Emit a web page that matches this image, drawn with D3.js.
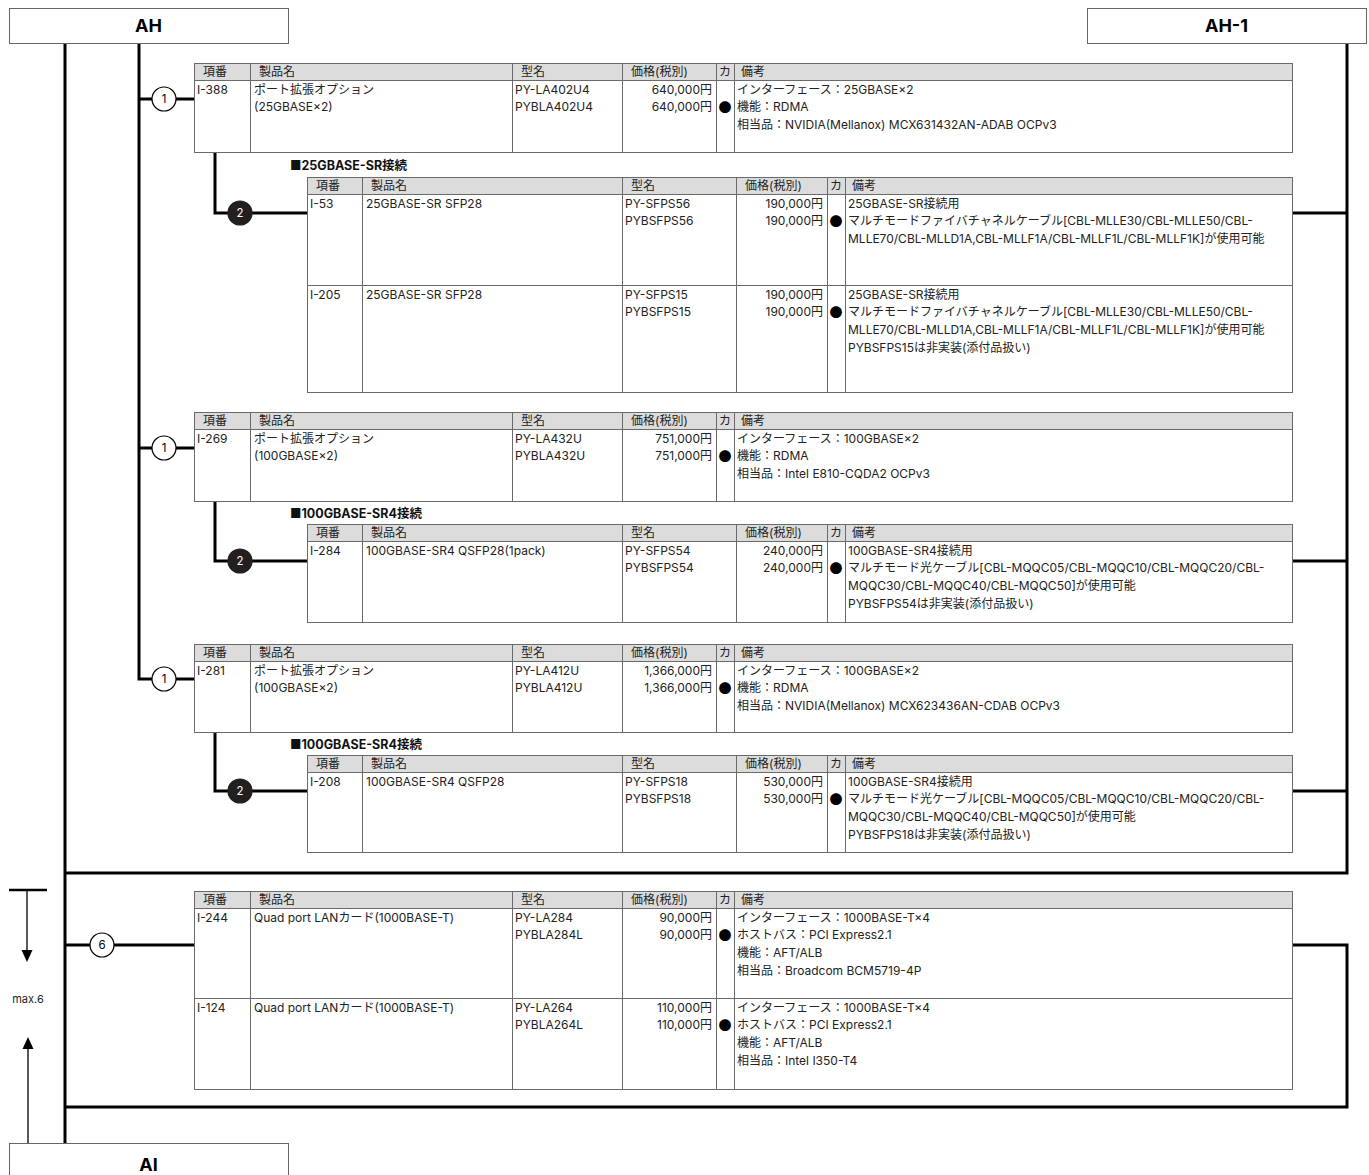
<!DOCTYPE html>
<html><head><meta charset="utf-8">
<script src="https://cdn.jsdelivr.net/npm/d3@7/dist/d3.min.js"></script>
<style>
html,body{margin:0;padding:0;background:#fff;}
svg{display:block;font-family:Inter,"Noto Sans CJK JP",sans-serif;}
</style></head>
<body>
<svg id="c" width="1369" height="1175"></svg>
<script>
// ---------------- DATA ----------------
const headerLabels = ["項番","製品名","型名","価格(税別)","カ","備考"];
const nodeLabels = ["AH","AH-1","AI"];
const sectionTitles = ["■25GBASE-SR接続","■100GBASE-SR4接続","■100GBASE-SR4接続"];
const stepLabels = ["1","2","6"];
const maxLabel = "max.6";

const portOption25G = [
  {no:"I-388", name:["ポート拡張オプション","(25GBASE×2)"], models:["PY-LA402U4","PYBLA402U4"], prices:[640000,640000], mark:"●",
   notes:["インターフェース：25GBASE×2","機能：RDMA","相当品：NVIDIA(Mellanox) MCX631432AN-ADAB OCPv3"]}
];
const sr25Modules = [
  {no:"I-53", name:["25GBASE-SR SFP28"], models:["PY-SFPS56","PYBSFPS56"], prices:[190000,190000], mark:"●",
   notes:["25GBASE-SR接続用","マルチモードファイバチャネルケーブル[CBL-MLLE30/CBL-MLLE50/CBL-","MLLE70/CBL-MLLD1A,CBL-MLLF1A/CBL-MLLF1L/CBL-MLLF1K]が使用可能"]},
  {no:"I-205", name:["25GBASE-SR SFP28"], models:["PY-SFPS15","PYBSFPS15"], prices:[190000,190000], mark:"●",
   notes:["25GBASE-SR接続用","マルチモードファイバチャネルケーブル[CBL-MLLE30/CBL-MLLE50/CBL-","MLLE70/CBL-MLLD1A,CBL-MLLF1A/CBL-MLLF1L/CBL-MLLF1K]が使用可能","PYBSFPS15は非実装(添付品扱い)"]}
];
const portOption100GIntel = [
  {no:"I-269", name:["ポート拡張オプション","(100GBASE×2)"], models:["PY-LA432U","PYBLA432U"], prices:[751000,751000], mark:"●",
   notes:["インターフェース：100GBASE×2","機能：RDMA","相当品：Intel E810-CQDA2 OCPv3"]}
];
const sr4ModulesA = [
  {no:"I-284", name:["100GBASE-SR4 QSFP28(1pack)"], models:["PY-SFPS54","PYBSFPS54"], prices:[240000,240000], mark:"●",
   notes:["100GBASE-SR4接続用","マルチモード光ケーブル[CBL-MQQC05/CBL-MQQC10/CBL-MQQC20/CBL-","MQQC30/CBL-MQQC40/CBL-MQQC50]が使用可能","PYBSFPS54は非実装(添付品扱い)"]}
];
const portOption100GNvidia = [
  {no:"I-281", name:["ポート拡張オプション","(100GBASE×2)"], models:["PY-LA412U","PYBLA412U"], prices:[1366000,1366000], mark:"●",
   notes:["インターフェース：100GBASE×2","機能：RDMA","相当品：NVIDIA(Mellanox) MCX623436AN-CDAB OCPv3"]}
];
const sr4ModulesB = [
  {no:"I-208", name:["100GBASE-SR4 QSFP28"], models:["PY-SFPS18","PYBSFPS18"], prices:[530000,530000], mark:"●",
   notes:["100GBASE-SR4接続用","マルチモード光ケーブル[CBL-MQQC05/CBL-MQQC10/CBL-MQQC20/CBL-","MQQC30/CBL-MQQC40/CBL-MQQC50]が使用可能","PYBSFPS18は非実装(添付品扱い)"]}
];
const lanCards = [
  {no:"I-244", name:["Quad port LANカード(1000BASE-T)"], models:["PY-LA284","PYBLA284L"], prices:[90000,90000], mark:"●",
   notes:["インターフェース：1000BASE-T×4","ホストバス：PCI Express2.1","機能：AFT/ALB","相当品：Broadcom BCM5719-4P"]},
  {no:"I-124", name:["Quad port LANカード(1000BASE-T)"], models:["PY-LA264","PYBLA264L"], prices:[110000,110000], mark:"●",
   notes:["インターフェース：1000BASE-T×4","ホストバス：PCI Express2.1","機能：AFT/ALB","相当品：Intel I350-T4"]}
];

// ---------------- LAYOUT ----------------
const svg = d3.select("#c");
const fmtPrice = v => d3.format(",")(v) + "円";
const mainCols = d3.scaleOrdinal().domain(d3.range(7)).range([194,250,512,622,716,734,1292]);
const subCols  = d3.scaleOrdinal().domain(d3.range(7)).range([307,362,622,736,827,845,1292]);
const HEAD_H = 17, LINE = 17.8, FS = 12;
const lineColor = "#6a6a6a";

function drawTable(rows, cols, top, rowHeights){
  const g = svg.append("g");
  const x0 = cols(0), x1 = cols(6);
  const bodyTop = top + HEAD_H;
  const bottom = bodyTop + d3.sum(rowHeights);
  g.append("rect").attr("x",x0).attr("y",top).attr("width",x1-x0).attr("height",bottom-top).attr("fill","#fff");
  g.append("rect").attr("x",x0).attr("y",top).attr("width",x1-x0).attr("height",HEAD_H).attr("fill","#dcdcdc");
  headerLabels.forEach((h,i)=>{
    const t = g.append("text").attr("y",top+13).attr("font-size",FS).attr("fill","#222").text(h);
    if(i===4) t.attr("x",(cols(4)+cols(5))/2).attr("text-anchor","middle");
    else t.attr("x",cols(i)+(i===5?7:9));
  });
  let y = bodyTop;
  const rowTops = [];
  rows.forEach((r,ri)=>{
    rowTops.push(y);
    const tb = y + 13.5;
    const txt = (x,yy,s,anchor)=>g.append("text").attr("x",x).attr("y",yy).attr("font-size",FS).attr("fill","#222").attr("text-anchor",anchor||"start").text(s);
    txt(cols(0)+3, tb, r.no);
    r.name.forEach((s,i)=>txt(cols(1)+4, tb+i*LINE, s));
    r.models.forEach((s,i)=>txt(cols(2)+3, tb+i*LINE, s));
    r.prices.forEach((v,i)=>txt(cols(4)-4, tb+i*LINE, fmtPrice(v), "end"));
    txt((cols(4)+cols(5))/2, tb+LINE+0.5, r.mark, "middle")
      .attr("font-family","'Noto Sans CJK JP'").attr("font-size",13).attr("fill","#000");
    r.notes.forEach((s,i)=>txt(cols(5)+3, tb+i*LINE, s));
    y += rowHeights[ri];
  });
  const ln = (a,b,c,d)=>g.append("line").attr("x1",a).attr("y1",b).attr("x2",c).attr("y2",d).attr("stroke",lineColor).attr("stroke-width",1).attr("shape-rendering","crispEdges");
  ln(x0,top+0.5,x1,top+0.5);
  ln(x0,bodyTop+0.5,x1,bodyTop+0.5);
  rowTops.slice(1).forEach(t=>ln(x0,t+0.5,x1,t+0.5));
  ln(x0,bottom+0.5,x1,bottom+0.5);
  for(let i=0;i<7;i++) ln(cols(i)+0.5,top,cols(i)+0.5,bottom+1);
  return {top, bottom};
}

function thick(pts){
  svg.append("polyline").attr("points",pts.map(p=>p.join(",")).join(" "))
    .attr("fill","none").attr("stroke","#000").attr("stroke-width",3).attr("stroke-linejoin","miter");
}
function badge(cx,cy,label,filled){
  svg.append("circle").attr("cx",cx).attr("cy",cy).attr("r",12)
    .attr("fill",filled?"#231f20":"#fff").attr("stroke",filled?"#231f20":"#000").attr("stroke-width",1.2);
  svg.append("text").attr("x",cx).attr("y",cy+4).attr("text-anchor","middle").attr("font-size",11.5)
    .attr("fill",filled?"#fff":"#000").text(label);
}
function title(x,y,s){
  svg.append("text").attr("x",x).attr("y",y).attr("font-size",12.5).attr("font-weight","bold").attr("fill","#111").text(s);
}
function nodeBox(x,y,w,h,label,ty){
  svg.append("rect").attr("x",x+0.5).attr("y",y+0.5).attr("width",w).attr("height",h).attr("fill","#fff").attr("stroke","#666").attr("stroke-width",1);
  svg.append("text").attr("x",x+w/2).attr("y",y+ty).attr("text-anchor","middle").attr("font-size",18).attr("font-weight","bold").attr("fill","#000").text(label);
}

const xA = 65, xB = 139, xBr = 215, xR = 1347;
const y1 = 99, y2 = 448, y3 = 679;
const ys1 = 213, ys2 = 561, ys3 = 791;
const yMid = 873, yBot = 1107, y6 = 945;

thick([[xA,43],[xA,1143]]);
thick([[xB,43],[xB,y3],[194,y3]]);
thick([[xB,y1],[194,y1]]);
thick([[xB,y2],[194,y2]]);
thick([[xR,43],[xR,yMid],[xA,yMid]]);
thick([[xA,yBot],[xR,yBot],[xR,y6],[1292,y6]]);
thick([[xA,y6],[194,y6]]);
thick([[1292,ys1],[xR,ys1]]);
thick([[1292,ys2],[xR,ys2]]);
thick([[1292,ys3],[xR,ys3]]);
thick([[xBr,152],[xBr,ys1],[307,ys1]]);
thick([[xBr,501],[xBr,ys2],[307,ys2]]);
thick([[xBr,732],[xBr,ys3],[307,ys3]]);

drawTable(portOption25G, mainCols, 63, [72]);
title(290,170,sectionTitles[0]);
drawTable(sr25Modules, subCols, 177, [91,107]);
drawTable(portOption100GIntel, mainCols, 412, [72]);
title(290,518,sectionTitles[1]);
drawTable(sr4ModulesA, subCols, 524, [81]);
drawTable(portOption100GNvidia, mainCols, 644, [71]);
title(290,749,sectionTitles[2]);
drawTable(sr4ModulesB, subCols, 755, [80]);
drawTable(lanCards, mainCols, 891, [90,91]);

badge(164,y1,stepLabels[0],false);
badge(164,y2,stepLabels[0],false);
badge(164,y3,stepLabels[0],false);
badge(240,ys1,stepLabels[1],true);
badge(240,ys2,stepLabels[1],true);
badge(240,ys3,stepLabels[1],true);
badge(102,y6,stepLabels[2],false);

nodeBox(9,8,279,35,nodeLabels[0],24);
nodeBox(9+1078,8,279,35,nodeLabels[1],24);
nodeBox(9,1143,279,45,nodeLabels[2],28);

svg.append("line").attr("x1",9).attr("y1",890).attr("x2",47).attr("y2",890).attr("stroke","#000").attr("stroke-width",2.5);
svg.append("line").attr("x1",27).attr("y1",890).attr("x2",27).attr("y2",952).attr("stroke","#000").attr("stroke-width",1.3);
svg.append("path").attr("d","M21.5,950 L32.5,950 L27,962 Z").attr("fill","#000");
svg.append("line").attr("x1",28).attr("y1",1143).attr("x2",28).attr("y2",1047).attr("stroke","#000").attr("stroke-width",1.3);
svg.append("path").attr("d","M22.5,1049 L33.5,1049 L28,1037 Z").attr("fill","#000");
svg.append("text").attr("x",28).attr("y",1003).attr("text-anchor","middle").attr("font-size",11).attr("fill","#222").text(maxLabel);
</script>
</body></html>
